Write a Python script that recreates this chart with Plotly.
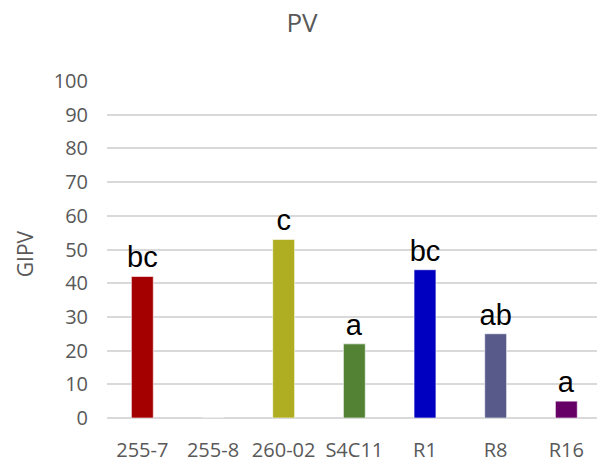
import plotly.graph_objects as go

categories = ["255-7", "255-8", "260-02", "S4C11", "R1", "R8", "R16"]
values = [42, 0, 53, 22, 44, 25, 5]
letters = ["bc", "", "c", "a", "bc", "ab", "a"]
colors = ["#A50000", "#A50000", "#AFAE22", "#548235", "#0000C0", "#585A8A", "#660066"]
y_ticks = [0, 10, 20, 30, 40, 50, 60, 70, 80, 90, 100]

W, H = 597, 464
fig = go.Figure()
fig.add_trace(go.Bar(
    x=list(range(len(categories))), y=values,
    marker=dict(color=colors, line=dict(color="rgba(255,255,255,0.6)", width=1)),
    width=0.31,
    text=letters, textposition="outside", cliponaxis=False, constraintext="none",
    textfont=dict(family="Liberation Sans", size=29, color="#000000"),
))

fig.update_layout(
    width=W, height=H,
    margin=dict(l=107, r=0, t=81, b=46),
    plot_bgcolor="white", paper_bgcolor="white",
    showlegend=False,
    title=dict(text="PV", x=(302 - 107) / (597 - 107), xanchor="center",
               y=1 - 23 / H, yanchor="middle", yref="container", xref="paper",
               font=dict(family="Open Sans", size=26, color="#595959")),
    font=dict(family="Open Sans", color="#595959"),
)
fig.update_xaxes(
    tickmode="array", tickvals=list(range(len(categories))), ticktext=categories,
    range=[-0.5, 6.434], showgrid=False, zeroline=False, showline=False,
    ticks="outside", ticklen=14, tickcolor="rgba(0,0,0,0)",
    tickfont=dict(family="Open Sans", size=20, color="#595959"),
)
fig.update_yaxes(
    range=[0, 100], tickvals=y_ticks, showgrid=True, gridcolor="#D9D9D9", gridwidth=1.5,
    zeroline=True, zerolinecolor="#D9D9D9", zerolinewidth=1.5, showline=False,
    ticks="", ticklabelstandoff=18,
    tickfont=dict(family="Open Sans", size=20, color="#595959"),
)
fig.add_annotation(text="GIPV", textangle=-90, xref="paper", yref="paper",
                   x=-(107 - 25) / (597 - 107), y=0.486, xanchor="center", yanchor="middle",
                   showarrow=False, font=dict(family="Open Sans", size=21, color="#595959"))
fig.write_html("out.html")
